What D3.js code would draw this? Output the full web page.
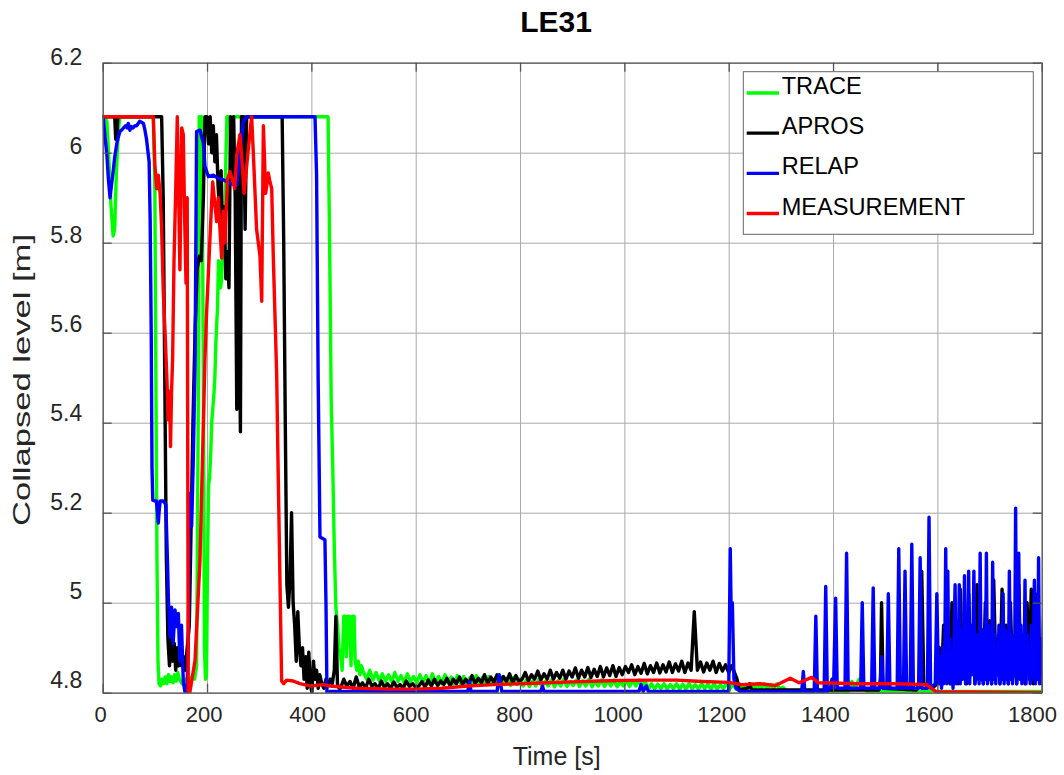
<!DOCTYPE html>
<html><head><meta charset="utf-8">
<script src="https://cdn.jsdelivr.net/npm/d3@7"></script>
<style>body{margin:0;background:#fff} text{font-family:"Liberation Sans",Arial,Helvetica,sans-serif}</style>
</head><body><svg id="c" width="1064" height="775"></svg>
<script>
const xTicks=[0,200,400,600,800,1000,1200,1400,1600,1800];
const yTicks=[4.8,5.0,5.2,5.4,5.6,5.8,6.0,6.2];
const seriesNames=["TRACE","APROS","RELAP","MEASUREMENT"];
const seriesColors=["#00ff00","#000000","#0000ff","#ff0000"];

const tracePts=[[0,6.08],[8,6.07],[12,5.98],[16,5.88],[20,5.815],[23,5.83],[26,5.95],[30,6.05],[33,6.08],[97,6.08],[100,5.92],[102,5.5],[104,5.1],[106,4.87],[108,4.82],[111,4.815],[114,4.83],[117,4.82],[120,4.835],[123,4.82],[126,4.84],[129,4.825],[132,4.835],[135,4.822],[138,4.84],[141,4.826],[144,4.845],[147,4.83],[152,4.82],[158,4.83],[164,4.825],[170,4.835],[176,4.83],[180,4.86],[183,5.4],[185,6.08],[190,6.08],[193,5.5],[195,4.9],[197,4.83],[199,4.84],[201,5.1],[203,5.26],[205,5.28],[207,5.33],[209,5.4],[211,5.43],[213,5.46],[215,5.5],[217,5.58],[219,5.63],[220,5.65],[222,5.76],[224,5.73],[226,5.7],[228,5.72],[230,5.8],[232,5.83],[234,5.82],[236,5.98],[238,6.08],[244,6.08],[247,5.98],[250,6.08],[432,6.08],[435,5.8],[438,5.45],[441,5.3],[444,5.12],[447,4.99],[450,4.95],[453,4.9],[456,4.88],[459,4.85],[462,4.97],[465,4.97],[467,4.88],[470,4.97],[473,4.97],[476,4.86],[479,4.97],[482,4.97],[484,4.87],[487,4.85],[490,4.87],[493,4.84],[496,4.86]];
const traceBandStart=500, traceBandStep=6;
const traceBand=[4.845,4.83,4.85,4.828,4.845,4.826,4.842,4.825,4.84,4.824,4.845,4.825,4.838,4.822,4.842,4.825,4.836,4.822,4.84,4.823,4.838,4.82,4.842,4.822,4.836,4.82,4.84,4.822,4.835,4.82,4.838,4.82,4.836,4.82,4.834,4.818,4.838,4.82,4.834,4.818,4.836,4.82,4.832,4.818,4.835,4.818,4.832,4.816,4.834,4.818,4.83,
4.815,4.828,4.814,4.826,4.815,4.83,4.814,4.825,4.815,4.828,4.813,4.826,4.815,4.83,4.814,4.825,4.816,4.828,4.814,4.826,4.815,4.83,4.813,4.825,4.815,4.828,4.814,4.826,4.815,4.828,4.813,4.825,4.815,4.827,4.814,4.826,4.815,4.828,4.814,4.825,
4.808,4.82,4.808,4.819,4.809,4.82,4.808,4.818,4.809,4.82,4.808,4.819,4.808,4.82,4.809,4.818,4.808,4.82,4.809,4.819,4.808,4.82,4.808,4.818,4.809,4.82,4.808,4.819,4.808,4.82,4.809,4.818,4.808,4.82,4.809,4.819,4.808,4.82,4.808,4.818,4.809,4.82,4.808];
const traceTail=[[1304,4.812],[1312,4.803],[1430,4.803],[1436,4.825],[1442,4.81],[1450,4.83],[1458,4.81],[1466,4.803],[1820,4.803]];

const aprosPts=[[0,6.08],[23,6.08],[25,6.03],[27,6.03],[29,6.08],[113,6.08],[116,5.9],[119,5.5],[122,5.1],[125,4.92],[128,4.86],[131,4.92],[134,4.87],[137,4.91],[140,4.85],[143,4.9],[146,4.86],[149,4.92],[152,4.86],[155,4.88],[158,4.85],[162,4.9],[166,4.95],[169,5.14],[173,5.4],[177,5.6],[181,5.74],[185,5.77],[189,5.76],[193,5.9],[196,6.08],[200,6.08],[203,6.02],[206,6.08],[209,6.0],[212,6.06],[215,5.98],[218,6.04],[221,5.93],[224,5.87],[227,5.96],[230,5.8],[233,5.88],[236,5.72],[239,5.78],[242,5.7],[245,6.08],[248,5.95],[251,6.08],[254,5.9],[257,5.43],[259,6.0],[262,5.6],[264,5.38],[266,6.08],[270,6.08],[273,5.83],[276,6.08],[344,6.08],[347,5.8],[350,5.4],[353,5.04],[356,4.99],[359,5.05],[362,5.2],[365,5.0],[368,4.95],[371,4.87],[374,4.98],[377,4.9],[380,4.86],[383,4.9],[386,4.83],[389,4.88],[392,4.81],[395,4.89],[398,4.82],[401,4.8],[404,4.87],[407,4.83],[410,4.85],[413,4.81],[416,4.84],[420,4.82],[424,4.81],[428,4.83],[432,4.815],[436,4.83],[440,4.82],[444,4.85],[447,4.97],[450,4.82],[453,4.81]];
const aprosBandStart=456, aprosBandStep=6;
const aprosBand=[4.81,4.83,4.815,4.825,4.81,4.835,4.812,4.822,4.81,4.83,4.815,4.82,4.808,4.826,4.812,4.82,4.81,4.824,4.812,4.818,4.81,4.826,4.814,4.82,4.812,
4.815,4.825,4.812,4.828,4.815,4.83,4.816,4.826,4.818,4.832,4.815,4.83,4.82,4.835,4.818,4.83,4.82,4.838,4.82,4.832,4.822,4.84,4.82,4.835,4.823,4.84,4.822,4.836,4.825,4.842,4.822,4.838,4.825,
4.83,4.845,4.826,4.84,4.83,4.848,4.828,4.842,4.83,4.85,4.83,4.845,4.832,4.85,4.83,4.848,4.835,4.855,4.832,4.85,4.835,4.856,4.834,4.852,4.836,4.858,4.835,4.855,4.838,4.86,4.836,4.856,4.84,4.858,
4.845,4.862,4.84,4.858,4.843,4.865,4.842,4.86,4.845,4.866,4.844,4.862,4.846,4.868,4.845,4.864,4.848,4.87,4.845,4.866,4.85,4.98,4.85,4.868,4.846,4.866,4.85,4.87,4.845,4.865,4.848,4.862,4.845,4.86,4.842];
const aprosTail=[[1216,4.83],[1220,4.806],[1236,4.81],[1240,4.82],[1244,4.806],[1488,4.806],[1491,4.83],[1493,5.0],[1496,4.81],[1560,4.806],[1566,4.82],[1570,5.07],[1574,4.82],[1590,4.81],[1600,4.82],[1604,4.9],[1608,4.83],[1612,4.95],[1616,4.84],[1620,4.88],[1624,4.82],[1628,5.0],[1632,4.83],[1636,4.92],[1640,4.82],[1644,5.03],[1648,4.84],[1652,4.9],[1656,4.82],[1660,5.02],[1664,4.85],[1668,4.95],[1672,4.82],[1676,5.04],[1680,4.84],[1684,4.9],[1688,4.82],[1692,5.0],[1696,4.83],[1700,4.96],[1704,4.82],[1708,5.05],[1712,4.85],[1716,4.92],[1720,4.82],[1724,5.03],[1728,4.84],[1732,4.95],[1736,4.82],[1740,5.0],[1744,4.83],[1748,4.9],[1752,4.82],[1756,5.04],[1760,4.84],[1764,4.93],[1768,4.82],[1772,5.0],[1776,4.83],[1780,5.03],[1784,4.82],[1788,5.02],[1792,4.84],[1796,4.9],[1800,4.82],[1804,4.98],[1808,4.83],[1812,4.93],[1816,4.82],[1820,4.86]];

const relapPts=[[0,6.08],[1,6.08],[4,6.04],[8,5.995],[11,5.94],[14,5.9],[17,5.93],[20,5.958],[23,5.99],[27,6.02],[30,6.035],[33,6.047],[36,6.05],[40,6.055],[44,6.06],[47,6.055],[49,6.065],[52,6.05],[55,6.058],[58,6.055],[62,6.06],[65,6.06],[68,6.065],[71,6.07],[74,6.068],[78,6.065],[81,6.05],[84,6.03],[87,6.0],[89,5.98],[91,5.85],[93,5.6],[94.5,5.3],[96,5.228],[100,5.226],[103,5.226],[105,5.2],[106.6,5.177],[108,5.2],[110,5.226],[116,5.226],[121,5.218],[124,5.1],[126,5.006],[129,4.924],[132,4.99],[135,4.91],[138.6,4.984],[142,4.947],[145,4.976],[148,4.87],[151,4.95],[154.5,4.824],[158,4.8],[161,4.79],[164,4.9],[167,5.243],[170.5,5.17],[173.7,5.32],[177,5.53],[180,6.047],[186.5,6.05],[193,6.02],[196,5.97],[202.5,5.947],[212,5.95],[221.6,5.943],[231,5.94],[244,5.932],[257,5.928],[263,5.995],[269.5,6.07],[276,6.08],[407,6.08],[410,5.95],[413,5.5],[416.5,5.146],[426,5.14],[428,5.0],[430,4.79],[436,4.803],[700,4.803],[703,4.825],[706,4.803],[756,4.803],[760,4.84],[765,4.803],[840,4.803],[843,4.815],[846,4.803],[1028,4.803],[1032,4.818],[1036,4.803],[1042,4.815],[1046,4.803],[1200,4.803],[1203,5.12],[1205,4.95],[1207,5.0],[1210,4.83],[1214,4.81],[1222,4.803],
[1340,4.803],[1343,4.847],[1346,4.803],[1364,4.803],[1367,4.97],[1370,4.803],[1383,4.803],[1386,5.036],[1389,4.803],[1395,4.81],[1398,4.83],[1401,4.81],[1405,5.01],[1408,4.81],[1423,4.81],[1426,5.11],[1429,4.81],[1453,4.81],[1456,5.0],[1459,4.81],[1474,4.81],[1477,5.033],[1480,4.81],[1490,4.81],[1493,4.88],[1496,4.81],[1503,4.81],[1506,5.02],[1509,4.81],[1523,4.81],[1526,5.12],[1529,4.81],[1535,4.81],[1538,5.07],[1541,4.81],[1548,4.81],[1551,5.13],[1554,4.81],[1564,4.81],[1567,5.1],[1570,4.81],[1581,4.81],[1584,5.19],[1587,4.81],[1596,4.82],[1599,5.02],[1602,4.83]];
const relapBandStart=1604, relapBandStep=2;
const relapBand=[4.82,4.88,4.81,4.9,4.82,4.86,5.12,4.82,5.07,4.83,4.92,4.82,4.88,4.81,4.93,5.04,4.82,4.9,4.83,5.04,
4.82,4.94,4.83,4.89,5.06,4.82,4.92,4.83,5.07,4.82,4.95,4.84,4.9,5.07,4.82,4.93,4.83,4.88,4.82,5.11,
4.83,4.94,4.82,4.9,4.83,5.11,4.82,4.95,4.83,4.91,4.82,5.09,4.83,4.93,4.82,4.89,4.84,4.95,4.82,4.9,
4.83,5.02,4.82,4.94,4.83,4.88,4.82,5.07,4.83,4.93,4.82,4.9,4.84,5.21,4.82,4.92,5.11,4.83,4.95,4.82,
4.9,4.83,5.05,4.82,4.93,4.84,4.89,4.82,4.95,4.83,4.9,5.05,4.82,4.94,4.83,5.1,4.82,4.92,4.84,4.88,
5.0,4.82,4.93,4.83,4.95,4.82,4.9,4.84,4.88];

const measPts=[[0,6.08],[97,6.08],[100,5.973],[103.5,5.92],[106.6,5.95],[110,5.91],[113,5.83],[116,5.697],[120,5.587],[123,5.5],[125.8,5.406],[128,5.47],[130,5.347],[132,5.47],[134,5.54],[136.7,5.76],[140,5.92],[143,6.08],[146,5.88],[148,5.74],[151.5,6.055],[154.5,6.04],[157,5.86],[159.7,5.71],[162,5.9],[164,4.79],[167,4.8],[177,4.872],[186.5,5.095],[196,5.54],[199,5.64],[205.6,5.81],[210.8,5.935],[215,5.885],[218.5,5.847],[221.6,5.9],[224.8,5.83],[228,5.766],[231,5.87],[234.4,5.8],[239,5.94],[244,5.958],[250,5.935],[253,5.92],[257,5.995],[263,6.04],[266,6.0],[271,5.91],[276,5.97],[281,6.03],[285.5,6.08],[288.7,6.0],[295,5.83],[301.5,5.77],[304.8,5.67],[308,6.06],[312.4,5.91],[317.5,5.955],[320.7,5.935],[324,5.92],[327,5.77],[333.5,5.506],[336,5.317],[343,4.826],[347,4.82],[352.7,4.828],[365,4.826],[378,4.82],[397,4.815],[422.7,4.818],[435,4.815],[487,4.81],[551,4.808],[600,4.808],[650,4.81],[700,4.815],[750,4.818],[800,4.82],[850,4.822],[900,4.824],[950,4.826],[1000,4.827],[1050,4.828],[1100,4.828],[1150,4.825],[1200,4.823],[1225,4.818],[1260,4.82],[1290,4.816],[1318,4.832],[1335,4.822],[1359,4.834],[1372,4.822],[1450,4.82],[1520,4.82],[1579,4.818],[1598,4.802],[1820,4.8]];

function band(start,step,vals){return vals.map((v,i)=>[start+i*step,v]);}
const traceData=tracePts.concat(band(traceBandStart,traceBandStep,traceBand),traceTail);
const aprosData=aprosPts.concat(band(aprosBandStart,aprosBandStep,aprosBand),aprosTail);
const relapData=relapPts.concat(band(relapBandStart,relapBandStep,relapBand));
const measData=measPts;
const allData=[traceData,aprosData,relapData,measData];

const L=102.7,R=1041.7,T=62.7,B=692.7;
const svg=d3.select("#c");
const x=d3.scaleLinear().domain([0,1800]).range([L,R]);
const y=d3.scaleLinear().domain([4.8,6.2]).range([B,T]);
const axisCol="#555", txtCol="#262626";

svg.append("rect").attr("x",L).attr("y",T).attr("width",R-L).attr("height",B-T).attr("fill","#fff");
svg.append("g").attr("transform",`translate(0,${B})`).call(d3.axisBottom(x).tickValues(xTicks).tickSize(-(B-T)).tickFormat(""))
  .call(g=>{g.select(".domain").remove();g.selectAll("line").attr("stroke","#a9a9a9").attr("stroke-width",1);});
svg.append("g").attr("transform",`translate(${L},0)`).call(d3.axisLeft(y).tickValues(yTicks).tickSize(-(R-L)).tickFormat(""))
  .call(g=>{g.select(".domain").remove();g.selectAll("line").attr("stroke","#a9a9a9").attr("stroke-width",1);});

svg.append("clipPath").attr("id","clip").append("rect").attr("x",L).attr("y",T).attr("width",R-L).attr("height",B-T);
const line=d3.line().x(d=>x(d[0])).y(d=>y(d[1]));
const plot=svg.append("g").attr("clip-path","url(#clip)");
allData.forEach((d,i)=>{
  plot.append("path").datum(d).attr("d",line).attr("fill","none").attr("stroke",seriesColors[i])
    .attr("stroke-width",3.4).attr("stroke-linejoin","round").attr("stroke-linecap","round");
});

function tickStyle(g){g.select(".domain").attr("stroke",axisCol).attr("stroke-width",1.3);g.selectAll(".tick line").attr("stroke",axisCol).attr("stroke-width",1.3);g.selectAll("text").remove();}
svg.append("g").attr("transform",`translate(0,${B})`).call(d3.axisBottom(x).tickValues(xTicks).tickSize(-9).tickSizeOuter(0)).call(tickStyle);
svg.append("g").attr("transform",`translate(0,${T})`).call(d3.axisTop(x).tickValues(xTicks).tickSize(-9).tickSizeOuter(0)).call(tickStyle);
svg.append("g").attr("transform",`translate(${L},0)`).call(d3.axisLeft(y).tickValues(yTicks).tickSize(-9).tickSizeOuter(0)).call(tickStyle);
svg.append("g").attr("transform",`translate(${R},0)`).call(d3.axisRight(y).tickValues(yTicks).tickSize(-9).tickSizeOuter(0)).call(tickStyle);

svg.append("g").attr("transform",`translate(0,${B})`)
  .call(d3.axisBottom(x).tickValues(xTicks).tickSize(0).tickPadding(14).tickFormat(d3.format("d")))
  .call(g=>{g.select(".domain").remove();g.selectAll("text").attr("fill",txtCol).attr("font-size",22)
    .attr("dx",d=>-(x(d)-L)*0.0075-2.7);});
svg.append("g").attr("transform",`translate(${L},0)`)
  .call(d3.axisLeft(y).tickValues(yTicks).tickSize(0).tickPadding(20.4).tickFormat(d=>d3.format("")(+d.toFixed(1))))
  .call(g=>{g.select(".domain").remove();g.selectAll("text").attr("fill",txtCol).attr("font-size",23)
    .attr("y",d=>-5.3-(y(d)-T)*0.012);});

svg.append("text").attr("x",556).attr("y",31.7).attr("text-anchor","middle").attr("font-size",30).attr("font-weight","bold").attr("fill","#000").text("LE31");
svg.append("text").attr("x",556.7).attr("y",765).attr("text-anchor","middle").attr("font-size",25).attr("fill",txtCol).text("Time [s]");
svg.append("text").attr("transform",`translate(30,380) rotate(-90)`).attr("text-anchor","middle").attr("font-size",24)
  .attr("textLength",292).attr("lengthAdjust","spacingAndGlyphs").attr("fill",txtCol).text("Collapsed level [m]");

const lg=svg.append("g");
lg.append("rect").attr("x",743.3).attr("y",71.7).attr("width",290).attr("height",162.6).attr("fill","#fff").attr("stroke","#666").attr("stroke-width",1);
const legY=d3.scalePoint().domain(seriesNames).range([93,213.5]);
seriesNames.forEach((n,i)=>{
  lg.append("line").attr("x1",746.7).attr("x2",779).attr("y1",legY(n)).attr("y2",legY(n)).attr("stroke",seriesColors[i]).attr("stroke-width",3.4);
  lg.append("text").attr("x",781.7).attr("y",legY(n)+1).attr("font-size",23.6).attr("fill","#000").text(n);
});
</script></body></html>
